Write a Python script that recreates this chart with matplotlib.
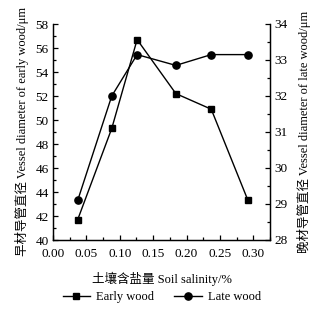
import matplotlib
matplotlib.use('Agg')
import matplotlib.pyplot as plt
from matplotlib.ticker import MultipleLocator

plt.rcParams['font.family'] = ['Liberation Serif', 'Noto Sans CJK SC']

# data
salinity = [0.037, 0.088, 0.126, 0.184, 0.237, 0.292]
early_wood = [41.7, 49.3, 56.7, 52.2, 50.9, 43.3]
late_wood = [29.1, 32.0, 33.15, 32.85, 33.15, 33.15]

fs = 9.5

fig = plt.figure(figsize=(3.21, 3.11), dpi=100)
ax1 = fig.add_axes([53/321, 71/311, 217/321, 216/311])
ax2 = ax1.twinx()

l1, = ax1.plot(salinity, early_wood, 'k-', marker='s', markersize=4.2, lw=1.0,
               label='Early wood')
l2, = ax2.plot(salinity, late_wood, 'k-', marker='o', markersize=5.2, lw=1.0,
               label='Late wood')

ax1.set_xlim(0, 0.325)
ax1.set_ylim(40, 58)
ax2.set_ylim(28, 34)

ax1.xaxis.set_major_locator(MultipleLocator(0.05))
ax1.xaxis.set_minor_locator(MultipleLocator(0.025))
ax1.yaxis.set_major_locator(MultipleLocator(2))
ax1.yaxis.set_minor_locator(MultipleLocator(1))
ax2.yaxis.set_major_locator(MultipleLocator(1))
ax2.yaxis.set_minor_locator(MultipleLocator(0.5))
ax1.xaxis.set_major_formatter(plt.FuncFormatter(lambda v, p: '%.2f' % v))

for ax in (ax1, ax2):
    ax.spines['top'].set_visible(False)
    ax.tick_params(which='major', direction='in', length=3.5, width=0.9,
                   labelsize=fs, pad=3)
    ax.tick_params(which='minor', direction='in', length=2, width=0.9)
    for s in ax.spines.values():
        s.set_linewidth(0.9)
ax1.tick_params(axis='x', which='major', pad=6)

ax1.set_xlabel('土壤含盐量 Soil salinity/%', fontsize=9, labelpad=8)
ax1.set_ylabel('早材导管直径 Vessel diameter of early wood/μm', fontsize=9,
               labelpad=5)
ax2.set_ylabel('晚材导管直径 Vessel diameter of late wood/μm', fontsize=9,
               labelpad=7)

fig.legend(handles=[l1, l2], loc='center', bbox_to_anchor=(162/321, 1 - 297/311),
           ncol=2, frameon=False, fontsize=9, handlelength=2.2,
           columnspacing=1.6, handletextpad=0.5)

fig.savefig('out.png', dpi=100)
